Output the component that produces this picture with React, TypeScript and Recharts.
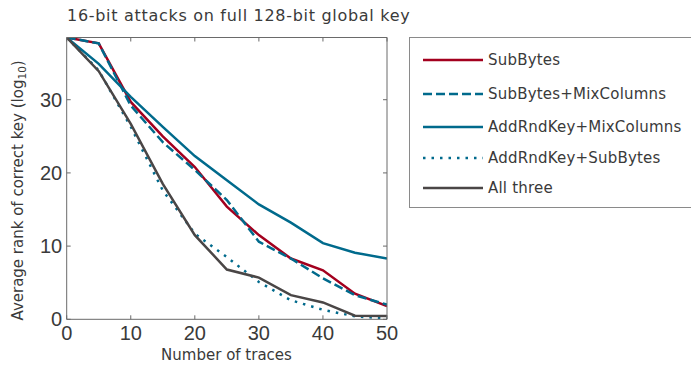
import { LineChart, Line, XAxis, YAxis, Legend } from 'recharts';

const traces = [0, 5, 10, 15, 20, 25, 30, 35, 40, 45, 50];
const subBytes = [38.5, 37.7, 29.7, 25.0, 20.8, 15.4, 11.5, 8.3, 6.7, 3.5, 1.8];
const subBytesMix = [38.5, 37.7, 29.2, 24.2, 20.4, 16.3, 10.6, 8.3, 5.6, 3.3, 2.0];
const addKeyMix = [38.5, 34.9, 30.4, 26.3, 22.3, 19.0, 15.7, 13.2, 10.4, 9.1, 8.3];
const addKeySub = [38.5, 34.0, 26.3, 17.6, 11.7, 8.5, 5.1, 2.6, 1.3, 0.4, 0.1];
const allThree = [38.5, 33.9, 26.7, 18.5, 11.5, 6.8, 5.7, 3.3, 2.3, 0.5, 0.45];

const xTicks = [0, 10, 20, 30, 40, 50];
const yTicks = [0, 10, 20, 30];

const data = traces.map((t, i) => ({
  t,
  sb: subBytes[i],
  sbmc: subBytesMix[i],
  akmc: addKeyMix[i],
  aksb: addKeySub[i],
  all: allThree[i],
}));

const RED = '#a3001e';
const TEAL = '#006a8c';
const GREY = '#4a4646';
const FRAME = '#6a6a6a';
const TXT = '#3a3a3a';
const UI = '"DejaVu Sans", sans-serif';

const series = [
  { key: 'sb', name: 'SubBytes', color: RED, dash: undefined },
  { key: 'sbmc', name: 'SubBytes+MixColumns', color: TEAL, dash: '9 4' },
  { key: 'akmc', name: 'AddRndKey+MixColumns', color: TEAL, dash: undefined },
  { key: 'aksb', name: 'AddRndKey+SubBytes', color: TEAL, dash: '2.5 6' },
  { key: 'all', name: 'All three', color: GREY, dash: undefined },
];

const legendRows = [22, 55.5, 88.5, 120, 150];

function BottomTick({ x, y, payload }: any) {
  return (
    <g>
      <line x1={x} x2={x} y1={y} y2={y - 4} stroke={FRAME} />
      <text x={x} y={y + 21} textAnchor="middle" fill={TXT} fontSize={20} fontFamily="Liberation Sans, Arial">
        {payload.value}
      </text>
    </g>
  );
}

function LeftTick({ x, y, payload }: any) {
  return (
    <g>
      <line x1={x} x2={x + 4} y1={y} y2={y} stroke={FRAME} />
      <text x={x - 4.5} y={y + 7} textAnchor="end" fill={TXT} fontSize={20} fontFamily="Liberation Sans, Arial">
        {payload.value}
      </text>
    </g>
  );
}

function TopTick({ x, y }: any) {
  return <line x1={x} x2={x} y1={y} y2={y + 4} stroke={FRAME} />;
}

function RightTick({ x, y }: any) {
  return <line x1={x} x2={x - 4} y1={y} y2={y} stroke={FRAME} />;
}

function YLabel({ viewBox }: any) {
  const cy = viewBox.y + viewBox.height / 2 + 12;
  return (
    <text
      transform={`translate(23, ${cy}) rotate(-90)`}
      textAnchor="middle"
      fill={TXT}
      fontSize={15}
      fontFamily={UI}
    >
      Average rank of correct key (log
      <tspan dy={3} fontSize={10.5}>10</tspan>
      <tspan dy={-3}>)</tspan>
    </text>
  );
}

function LegendBox() {
  return (
    <div
      style={{
        position: 'absolute',
        left: 409,
        top: 37,
        width: 400,
        height: 171,
        border: '1px solid #8a8a8a',
        boxSizing: 'border-box',
        background: '#fff',
        fontFamily: UI,
        fontSize: 15,
        letterSpacing: 0.2,
        color: TXT,
      }}
    >
      {series.map((s, i) => (
        <div key={s.key} style={{ position: 'absolute', left: 12, top: legendRows[i] - 11, height: 22, display: 'flex', alignItems: 'center' }}>
          <svg width={62} height={6} style={{ display: 'block' }}>
            <line x1={1} x2={61} y1={3} y2={3} stroke={s.color} strokeWidth={2.5} strokeDasharray={s.dash} />
          </svg>
          <span style={{ marginLeft: 4, whiteSpace: 'nowrap' }}>{s.name}</span>
        </div>
      ))}
    </div>
  );
}

export default function App() {
  return (
    <div style={{ position: 'absolute', left: 0, top: 0, width: 691, height: 365, background: '#fff', overflow: 'hidden' }}>
      <div
        style={{
          position: 'absolute',
          left: 67,
          top: 6,
          fontFamily: UI,
          fontSize: 16,
          letterSpacing: 0.7,
          color: TXT,
          whiteSpace: 'nowrap',
        }}
      >
        16-bit attacks on full 128-bit global key
      </div>
      <div
        style={{
          position: 'absolute',
          left: 0,
          top: 346,
          width: 453,
          textAlign: 'center',
          fontFamily: UI,
          fontSize: 15,
          lineHeight: '18px',
          color: TXT,
        }}
      >
        Number of traces
      </div>
      <LineChart
        width={691}
        height={365}
        data={data}
        margin={{ top: 36.5, right: 303, bottom: 0, left: 0 }}
        style={{ position: 'absolute', left: 0, top: 0 }}
      >
        <XAxis
          dataKey="t"
          type="number"
          domain={[0, 50]}
          ticks={xTicks}
          height={45.7}
          stroke={FRAME}
          tickLine={false}
          tickSize={0}
          tickMargin={0}
          tick={<BottomTick />}
          allowDataOverflow
        />
        <XAxis
          xAxisId="top"
          orientation="top"
          dataKey="t"
          type="number"
          domain={[0, 50]}
          ticks={xTicks}
          height={1}
          stroke={FRAME}
          tickLine={false}
          tickSize={0}
          tickMargin={0}
          tick={<TopTick />}
          allowDataOverflow
        />
        <YAxis
          type="number"
          domain={[0, 38.5]}
          ticks={yTicks}
          width={66.7}
          stroke={FRAME}
          tickLine={false}
          tickSize={0}
          tickMargin={0}
          tick={<LeftTick />}
          allowDataOverflow
          label={{ content: <YLabel /> }}
        />
        <YAxis
          yAxisId="right"
          orientation="right"
          type="number"
          domain={[0, 38.5]}
          ticks={yTicks}
          width={1}
          stroke={FRAME}
          tickLine={false}
          tickSize={0}
          tickMargin={0}
          tick={<RightTick />}
          allowDataOverflow
        />
        <Legend
          layout="horizontal"
          verticalAlign="middle"
          align="center"
          content={() => null}
        />
        {series.map((s) => (
          <Line
            key={s.key}
            dataKey={s.key}
            name={s.name}
            stroke={s.color}
            strokeWidth={2.5}
            strokeDasharray={s.dash}
            dot={false}
            activeDot={false}
            isAnimationActive={false}
          />
        ))}
      </LineChart>
      <LegendBox />
    </div>
  );
}
